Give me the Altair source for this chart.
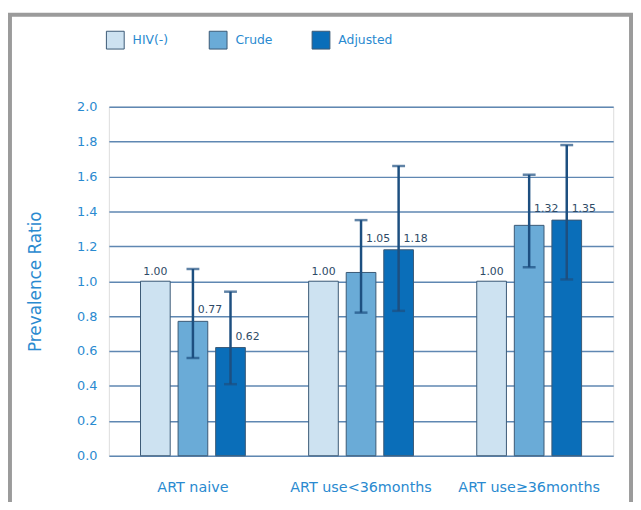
import altair as alt
import pandas as pd

groups = ["ART naive", "ART use<36months", "ART use\u226536months"]
series = ["HIV(-)", "Crude", "Adjusted"]
values = {
    "HIV(-)":   [1.00, 1.00, 1.00],
    "Crude":    [0.77, 1.05, 1.32],
    "Adjusted": [0.62, 1.18, 1.35],
}
ci_low = {
    "Crude":    [0.56, 0.82, 1.08],
    "Adjusted": [0.41, 0.83, 1.01],
}
ci_high = {
    "Crude":    [1.07, 1.35, 1.61],
    "Adjusted": [0.94, 1.66, 1.78],
}
colors = ["#cde2f1", "#6aabd7", "#0a6eb9"]
y_ticks = [0.0, 0.2, 0.4, 0.6, 0.8, 1.0, 1.2, 1.4, 1.6, 1.8, 2.0]

rows = []
for s in series:
    for i, g in enumerate(groups):
        v = values[s][i]
        # crude labels sit above the taller of the crude/adjusted pair
        anchor = max(v, values["Adjusted"][i]) if s == "Crude" else v
        rows.append({
            "group": g, "series": s, "value": v,
            "low": ci_low[s][i] if s in ci_low else None,
            "high": ci_high[s][i] if s in ci_high else None,
            "anchor": anchor,
            "label": f"{v:.2f}",
        })
df = pd.DataFrame(rows)

blue = "#2a8ad0"
font = "DejaVu Sans"

y_axis = alt.Axis(values=y_ticks, format=".1f", labelFontSize=13, labelColor=blue,
                  labelFont=font, ticks=False, domain=False, labelPadding=12,
                  gridColor="#5f87b2", gridWidth=1.5, titleFontSize=17,
                  titleColor=blue, titleFont=font, titleFontWeight="normal",
                  titlePadding=32)
y_scale = alt.Scale(domain=[0, 2])
x_axis = alt.Axis(labelAngle=0, labelFontSize=14.5, labelColor=blue, labelFont=font,
                  ticks=False, domain=False, grid=False, labelPadding=25)
x_scale = alt.Scale(paddingInner=0, paddingOuter=0)


def X():
    return alt.X("group:N", sort=groups, title=None, scale=x_scale, axis=x_axis)


def Y(field):
    return alt.Y(field, scale=y_scale, title="Prevalence Ratio", axis=y_axis)


xo = alt.XOffset("series:N", sort=series,
                 scale=alt.Scale(paddingInner=0.21, paddingOuter=0.842))

base = alt.Chart(df)

bars = base.mark_bar(stroke="#3b5975", strokeWidth=1).encode(
    x=X(), xOffset=xo, y=Y("value:Q"),
    fill=alt.Fill("series:N", sort=series,
                  scale=alt.Scale(domain=series, range=colors),
                  legend=alt.Legend(title=None, orient="none", legendX=-3, legendY=-77,
                                    direction="horizontal", symbolType="square",
                                    symbolSize=324, symbolStrokeColor="#3b5975",
                                    symbolStrokeWidth=1, symbolOpacity=1,
                                    labelFontSize=12.5, labelColor=blue, labelFont=font,
                                    labelOffset=8, columnPadding=20, gridAlign="all")),
)

err = base.transform_filter("datum.series != 'HIV(-)'")
whisk = err.mark_rule(color="#1d4f80", strokeWidth=2.5).encode(
    x=X(), xOffset=xo, y=Y("low:Q"), y2="high:Q")
cap_lo = err.mark_tick(color="#1d4f80", thickness=2.5, size=13, orient="horizontal").encode(
    x=X(), xOffset=xo, y=Y("low:Q"))
cap_hi = err.mark_tick(color="#1d4f80", thickness=2.5, size=13, orient="horizontal").encode(
    x=X(), xOffset=xo, y=Y("high:Q"))

lab_hiv = base.transform_filter("datum.series == 'HIV(-)'").mark_text(
    dy=-4, align="center", baseline="bottom", fontSize=11, color="#2e4a66", font=font
).encode(x=X(), xOffset=xo, y=Y("anchor:Q"), text="label:N")
lab_oth = err.mark_text(
    dx=5, dy=-6, align="left", baseline="bottom", fontSize=11, color="#2e4a66", font=font
).encode(x=X(), xOffset=xo, y=Y("anchor:Q"), text="label:N")

frame = alt.Chart(pd.DataFrame({"a": [0]})).mark_rect(
    fill=None, stroke="#9b9b9b", strokeWidth=4, clip=False
).encode(x=alt.value(-100), x2=alt.value(528), y=alt.value(-93), y2=alt.value(430))

chart = alt.layer(bars, whisk, cap_lo, cap_hi, lab_hiv, lab_oth, frame).properties(
    width=510, height=353,
    autosize=alt.AutoSizeParams(type="none"),
    padding={"left": 102, "top": 97, "right": 20, "bottom": 44},
).configure_view(strokeWidth=0, stroke="transparent").configure_axis(
    domain=False
).configure(background="white")

chart.save("out.html", embed_options={"renderer": "svg", "actions": False})
